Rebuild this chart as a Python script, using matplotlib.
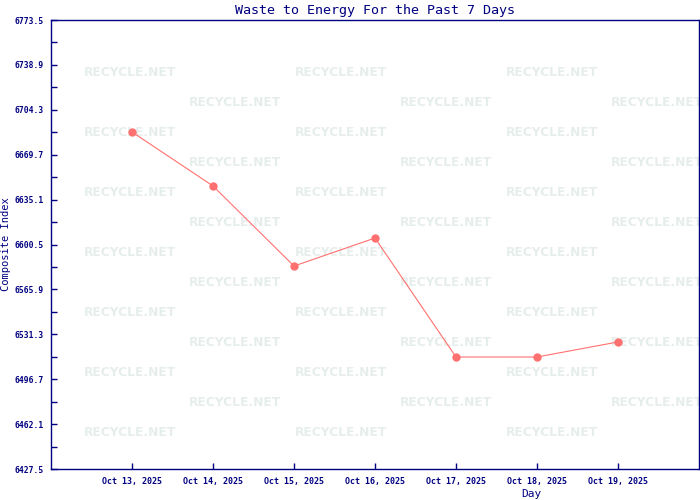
import matplotlib
matplotlib.use('Agg')
import matplotlib.pyplot as plt
import numpy as np

# data
days = ['Oct 13, 2025', 'Oct 14, 2025', 'Oct 15, 2025', 'Oct 16, 2025',
        'Oct 17, 2025', 'Oct 18, 2025', 'Oct 19, 2025']
index_vals = [6687.2, 6645.6, 6583.9, 6605.5, 6513.8, 6513.8, 6525.4]
y_ticks = [6427.5, 6462.1, 6496.7, 6531.3, 6565.9, 6600.5,
           6635.1, 6669.7, 6704.3, 6738.9, 6773.5]

navy = '#000080'
mono = ['DejaVu Sans Mono']

fig = plt.figure(figsize=(7, 5), dpi=100)
ax = fig.add_axes([51/700, 31/500, 648/700, 449/500])
ax.set_zorder(2)

# background watermark, staggered grid
for r in range(13):
    yp = 500 - (73 + 30*r)
    x0 = 130 if r % 2 == 0 else 235
    for k in range(4):
        xp = x0 + 211*k
        if xp > 690:
            continue
        t = fig.text(xp/700, yp/500, 'RECYCLE.NET', color='#e6eeec', fontsize=8.8,
                     fontweight='bold', ha='center', va='center', zorder=0)
        t.set_clip_box(ax.bbox)

x = np.arange(len(days))
ax.plot(x, index_vals, color='#ff7070', lw=0.8, marker='o', ms=5,
        mfc='#ff7070', mec='#ff7070', zorder=3)

ax.set_xlim(-1, 7)
ax.set_ylim(y_ticks[0], y_ticks[-1])
ax.set_xticks(x)
ax.set_xticklabels(days, family=mono, fontsize=6, fontweight='bold', color=navy)
ax.set_yticks(y_ticks)
ax.set_yticklabels([f'{v:.1f}' for v in y_ticks], family=mono, fontsize=5.8,
                   fontweight='bold', color=navy)
ax.set_yticks([(a + b) / 2 for a, b in zip(y_ticks[:-1], y_ticks[1:])], minor=True)
ax.tick_params(axis='both', which='both', direction='in', length=4, width=1,
               color=navy, pad=6)
ax.tick_params(axis='y', pad=5)
ax.patch.set_alpha(0)
for s in ax.spines.values():
    s.set_color(navy)
    s.set_linewidth(1)

ax.set_title('Waste to Energy For the Past 7 Days', family=mono, fontsize=9.6,
             color=navy, pad=4)
ax.set_ylabel('Composite Index', family=mono, fontsize=7.5, color=navy, labelpad=3)
ax.set_xlabel('Day', family=mono, fontsize=8, color=navy)
ax.xaxis.set_label_coords((531 - 51) / 648, -0.045)

plt.savefig('out.png', dpi=100)
